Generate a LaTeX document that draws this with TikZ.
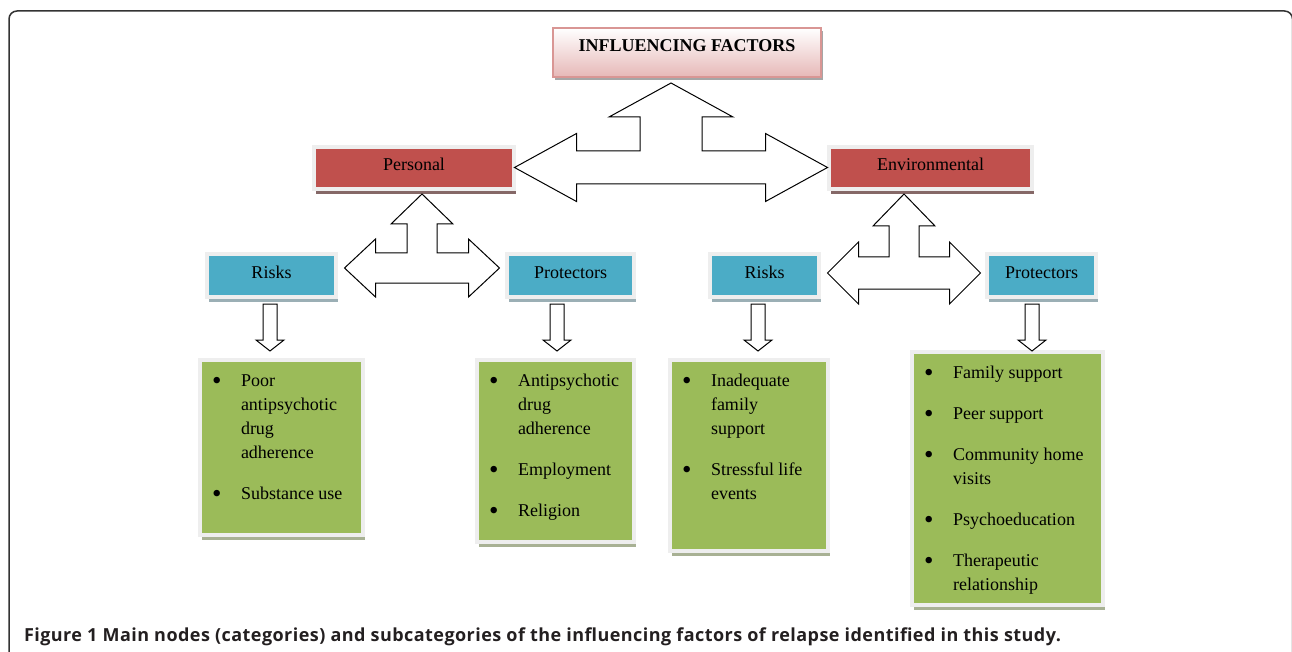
\documentclass[tikz,border=0pt]{standalone}
\usepackage{fontspec}
\setmainfont{Liberation Serif}
\newfontfamily\capfont[LetterSpace=2.5]{Open Sans}
\usepackage{tikz}
\usetikzlibrary{shadows, positioning}
\definecolor{catred}{HTML}{C0504D}
\definecolor{subcyan}{HTML}{4BACC6}
\definecolor{itemgreen}{HTML}{9BBB59}
\definecolor{rimgray}{HTML}{EEEEEE}
\definecolor{ifline}{HTML}{D99694}
\definecolor{ifpink}{HTML}{E6B8B7}
\definecolor{capgray}{HTML}{231F20}
\tikzstyle{every node}=[font=\fontsize{18}{24}\selectfont, inner sep=0pt, outer sep=0pt]
\tikzstyle{box}=[draw=rimgray, line width=4pt, text height=12pt, text depth=6pt]
\tikzstyle{catbox}=[box, fill=catred,
  drop shadow={shadow xshift=2pt, shadow yshift=-5pt, fill=black!25!catred!35!gray, opacity=1}]
\tikzstyle{subbox}=[box, fill=subcyan, minimum height=43pt,
  drop shadow={shadow xshift=2pt, shadow yshift=-5pt, fill=subcyan!30!gray!70, opacity=1}]
\tikzstyle{itembox}=[box, fill=itemgreen,
  drop shadow={shadow xshift=2pt, shadow yshift=-5pt, fill=itemgreen!40!gray!75, opacity=1}]
\tikzstyle{ifbox}=[draw=ifline, line width=1.5pt, top color=white, bottom color=ifpink,
  minimum width=268pt, minimum height=49pt, text height=12pt, text depth=13pt,
  drop shadow={shadow xshift=2pt, shadow yshift=-3pt, fill=gray!70, opacity=1}]
\tikzstyle{lst}=[anchor=base west]
\tikzstyle{blockarrow}=[draw=black, fill=white, line width=1pt, line join=miter]
\tikzstyle{frame}=[draw=black!80, line width=1.5pt, rounded corners=8pt]
\newcommand{\bdot}{\raisebox{-3pt}{\fontsize{27}{24}\selectfont\textbullet}}
\newcommand{\bitem}[1]{\hbox{\makebox[29pt][l]{\bdot}#1}}
\newcommand{\bline}[1]{\hbox{\hspace*{29pt}#1}}
\newcommand{\itemgap}{\vskip17pt}
\newcommand{\downblock}[1]{\draw[blockarrow] (#1) ++(-7,0) -- ++(14,0) -- ++(0,36)
  -- ++(7,0) -- ++(-14,11) -- ++(-14,-11) -- ++(7,0) -- cycle;}
\newcommand{\triblock}[9]{\draw[blockarrow] (#1) -- ++(#5,#6) -- ++({-(#5-#4)},0)
  -- ++(0,{#2-#7-#6}) -- ++({#3-#9-#4},0) -- ++(0,{-(#8-#7)}) -- ++(#9,#8) -- ++(-#9,#8)
  -- ++(0,{-(#8-#7)}) -- ++({-2*(#3-#9)},0) -- ++(0,{#8-#7}) -- ++(-#9,-#8) -- ++(#9,-#8)
  -- ++(0,{#8-#7}) -- ++({#3-#9-#4},0) -- ++(0,{-(#2-#7-#6)}) -- ++({-(#5-#4)},0) -- cycle;}

\begin{document}
\begin{tikzpicture}[x=1pt,y=-1pt]
  \useasboundingbox (0,0) rectangle (1292,652);
  \draw[frame] (9,11) rectangle (1292.5,690);

  \node[ifbox] (IF) at (687,52.5) {\textbf{INFLUENCING FACTORS}};
  \node[catbox, minimum width=200pt, minimum height=42pt] (pers) at (414,168) {Personal};
  \node[catbox, minimum width=203pt, minimum height=42pt] (env) at (930.5,168) {Environmental};

  \node[subbox, minimum width=129pt] (rskP) at (271.5,275.5) {Risks};
  \node[subbox, minimum width=127pt] (prtP) at (570.5,275.5) {Protectors};
  \node[subbox, minimum width=109pt] (rskE) at (764.5,275.5) {Risks};
  \node[subbox, minimum width=109pt] (prtE) at (1041.5,275.5) {Protectors};

  \node[itembox, minimum width=163pt, minimum height=175pt] (itRP) at (281.5,447.5) {};
  \node[itembox, minimum width=157pt, minimum height=182pt] (itPP) at (555.5,451) {};
  \node[itembox, minimum width=158pt, minimum height=191pt] (itRE) at (749,455.5) {};
  \node[itembox, minimum width=191pt, minimum height=253pt] (itPE) at (1007.5,478.5) {};

  \node[lst] (lsRP) at ([xshift=12pt,yshift=-26.5pt]itRP.north west) {\vtop{\bitem{Poor}
    \bline{antipsychotic}\bline{drug}\bline{adherence}\itemgap\bitem{Substance use}}};
  \node[lst] (lsPP) at ([xshift=12pt,yshift=-26pt]itPP.north west) {\vtop{\bitem{Antipsychotic}
    \bline{drug}\bline{adherence}\itemgap\bitem{Employment}\itemgap\bitem{Religion}}};
  \node[lst] (lsRE) at ([xshift=12pt,yshift=-26pt]itRE.north west) {\vtop{\bitem{Inadequate}
    \bline{family}\bline{support}\itemgap\bitem{Stressful life}\bline{events}}};
  \node[lst] (lsPE) at ([xshift=12pt,yshift=-26pt]itPE.north west) {\vtop{\bitem{Family support}
    \itemgap\bitem{Peer support}\itemgap\bitem{Community home}\bline{visits}
    \itemgap\bitem{Psychoeducation}\itemgap\bitem{Therapeutic}\bline{relationship}}};

  \coordinate (tipIF) at ([xshift=-16pt,yshift=-6pt]IF.south);
  \coordinate (tipP) at ([xshift=8pt,yshift=-5pt]pers.south);
  \coordinate (tipE) at ([xshift=-26.5pt,yshift=-5pt]env.south);
  \triblock{tipIF}{84.5}{156.5}{31}{62}{34}{16.5}{34}{62}
  \triblock{tipP}{74}{77.5}{15}{31}{30}{15}{29}{31}
  \triblock{tipE}{79}{76.5}{15}{31}{32}{16}{31}{31}

  \coordinate (dnRP) at ([xshift=-1.5pt,yshift=-7pt]rskP.south);
  \coordinate (dnPP) at ([xshift=-13.5pt,yshift=-7pt]prtP.south);
  \coordinate (dnRE) at ([xshift=-6.5pt,yshift=-7pt]rskE.south);
  \coordinate (dnPE) at ([xshift=-9.5pt,yshift=-7pt]prtE.south);
  \downblock{dnRP}
  \downblock{dnPP}
  \downblock{dnRE}
  \downblock{dnPE}

  \node[anchor=base west, text=capgray, font=\capfont\bfseries\fontsize{18}{22}\selectfont] (cap) at (24,641)
    {Figure 1 Main nodes (categories) and subcategories of the influencing factors of relapse identified in this study.};
\end{tikzpicture}
\end{document}
